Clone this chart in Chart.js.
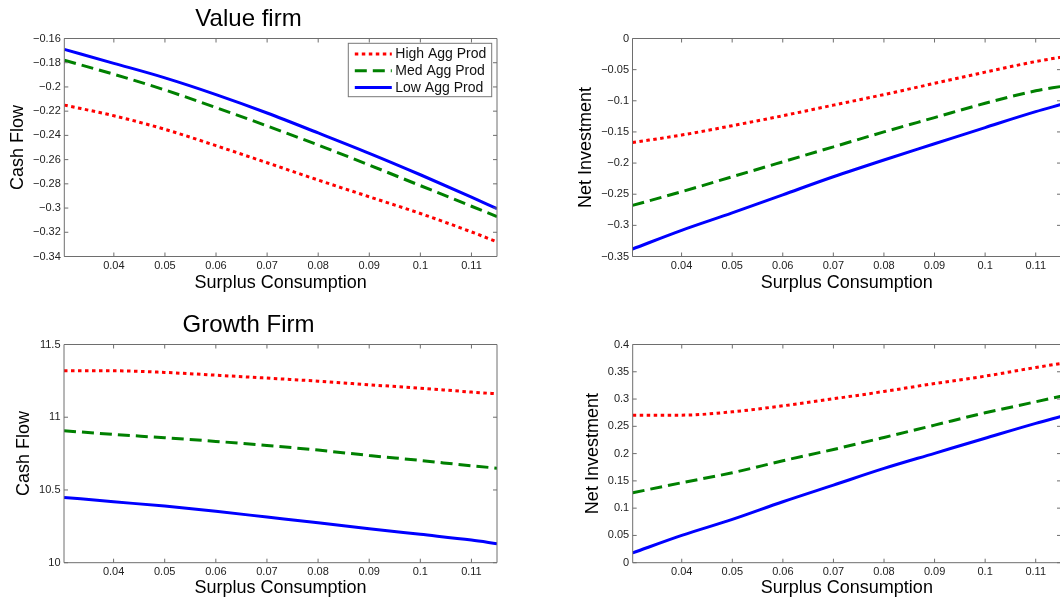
<!DOCTYPE html>
<html>
<head>
<meta charset="utf-8">
<script src="https://cdn.jsdelivr.net/npm/chart.js@4/dist/chart.umd.min.js"></script>
<style>
html,body{margin:0;padding:0;background:#fff;overflow:hidden}
#wrap{position:relative;width:1060px;height:603px;overflow:hidden}
canvas{position:absolute}
</style>
</head>
<body>
<div id="wrap">
<canvas id="c1" width="561" height="300" style="left:0;top:0"></canvas>
<canvas id="c3" width="561" height="303" style="left:0;top:300px"></canvas>
<canvas id="c2" width="532" height="300" style="left:530px;top:0"></canvas>
<canvas id="c4" width="532" height="303" style="left:530px;top:300px"></canvas>
</div>
<script>
// surplus consumption grid (x)
const surplus = [0.0303, 0.04, 0.05, 0.06, 0.07, 0.08, 0.09, 0.10, 0.11, 0.115]
const xTicks = [0.04, 0.05, 0.06, 0.07, 0.08, 0.09, 0.10, 0.11]

const seriesNames = ["High Agg Prod", "Med Agg Prod", "Low Agg Prod"]

// value firm - cash flow
const valueCashHigh = [-0.215, -0.2238, -0.2350, -0.2485, -0.2626, -0.2769, -0.2907, -0.3045, -0.3197, -0.3279]
const valueCashMed  = [-0.178, -0.1895, -0.2025, -0.2170, -0.2322, -0.2480, -0.2645, -0.2815, -0.2985, -0.3070]
const valueCashLow  = [-0.169, -0.1805, -0.1925, -0.2063, -0.2215, -0.2380, -0.2548, -0.2725, -0.2910, -0.3005]
const valueCashTicks = [-0.34, -0.32, -0.3, -0.28, -0.26, -0.24, -0.22, -0.2, -0.18, -0.16]

// value firm - net investment
const valueInvHigh = [-0.167, -0.155, -0.140, -0.124, -0.107, -0.090, -0.072, -0.054, -0.037, -0.030]
const valueInvMed  = [-0.268, -0.246, -0.222, -0.198, -0.174, -0.150, -0.127, -0.104, -0.084, -0.077]
const valueInvLow  = [-0.338, -0.308, -0.280, -0.251, -0.222, -0.195, -0.169, -0.143, -0.1175, -0.106]
const valueInvTicks = [-0.35, -0.3, -0.25, -0.2, -0.15, -0.1, -0.05, 0]

// growth firm - cash flow
const growthCashHigh = [11.319, 11.319, 11.308, 11.289, 11.269, 11.248, 11.223, 11.2, 11.173, 11.161]
const growthCashMed  = [10.907, 10.882, 10.859, 10.834, 10.806, 10.774, 10.737, 10.703, 10.666, 10.65]
const growthCashLow  = [10.449, 10.419, 10.389, 10.353, 10.314, 10.275, 10.234, 10.195, 10.156, 10.131]
const growthCashTicks = [10, 10.5, 11, 11.5]

// growth firm - net investment
const growthInvHigh = [0.2705, 0.2705, 0.2766, 0.2876, 0.3005, 0.3139, 0.3285, 0.342, 0.3579, 0.3652]
const growthInvMed  = [0.1282, 0.1466, 0.1649, 0.1869, 0.2076, 0.2296, 0.2522, 0.2748, 0.295, 0.3053]
const growthInvLow  = [0.018, 0.0501, 0.0794, 0.1118, 0.1423, 0.1728, 0.2005, 0.2282, 0.2555, 0.268]
const growthInvTicks = [0, 0.05, 0.1, 0.15, 0.2, 0.25, 0.3, 0.35, 0.4]

const FONT = "'Liberation Sans', Arial, sans-serif"
const BOX = "#6e6e6e"

Chart.defaults.font.family = FONT
Chart.defaults.color = "#222"

const styles = [
    {borderColor:"#ff0000", borderDash:[3.5,3.5]},
    {borderColor:"#008000", borderDash:[12,6]},
    {borderColor:"#0000ff", borderDash:[]}
]

function fmt(v){
    return String(+Number(v).toFixed(4)).replace("-", "\u2212")
}

function makeSets(high, med, low){
    return [high, med, low].map((arr, i) => ({
        label: seriesNames[i],
        data: arr.map((y, j) => ({x: surplus[j], y: y})),
        borderColor: styles[i].borderColor,
        borderDash: styles[i].borderDash,
        borderWidth: 3,
        pointRadius: 0,
        cubicInterpolationMode: "monotone",
        fill: false
    }))
}

// matlab style box with inward ticks
const boxPlugin = {
    id: "box",
    afterDraw(chart){
        const ctx = chart.ctx
        const a = chart.chartArea
        const xs = chart.scales.x, ys = chart.scales.y
        ctx.save()
        ctx.strokeStyle = BOX
        ctx.lineWidth = 1
        ctx.beginPath()
        ctx.rect(a.left, a.top, a.right - a.left, a.bottom - a.top)
        xs.ticks.forEach(t => {
            const p = xs.getPixelForValue(t.value)
            ctx.moveTo(p, a.bottom); ctx.lineTo(p, a.bottom - 4)
            ctx.moveTo(p, a.top); ctx.lineTo(p, a.top + 4)
        })
        ys.ticks.forEach(t => {
            const p = ys.getPixelForValue(t.value)
            ctx.moveTo(a.left, p); ctx.lineTo(a.left + 4, p)
            ctx.moveTo(a.right, p); ctx.lineTo(a.right - 4, p)
        })
        ctx.stroke()

        const lg = chart.options.plugins.box
        if (lg && lg.legend){
            const w = 143.4, h = 53.4
            const lx = a.right - 5.3 - w, ly = a.top + 4.8
            ctx.fillStyle = "#fff"
            ctx.fillRect(lx, ly, w, h)
            ctx.strokeStyle = "#777"
            ctx.strokeRect(lx, ly, w, h)
            ctx.font = "14px " + FONT
            ctx.textBaseline = "middle"
            ctx.textAlign = "left"
            chart.data.datasets.forEach((ds, i) => {
                const yy = ly + 10.7 + i * 16.7
                ctx.strokeStyle = ds.borderColor
                ctx.lineWidth = 3
                ctx.setLineDash(ds.borderDash)
                ctx.beginPath()
                ctx.moveTo(lx + 6.5, yy); ctx.lineTo(lx + 43.5, yy)
                ctx.stroke()
                ctx.setLineDash([])
                ctx.fillStyle = "#111"
                ctx.fillText(ds.label, lx + 47, yy + 0.5)
            })
        }
        ctx.restore()
    }
}

function makeChart(id, sets, opt){
    return new Chart(document.getElementById(id), {
        type: "line",
        data: {datasets: sets},
        plugins: [boxPlugin],
        options: {
            responsive: false,
            animation: false,
            devicePixelRatio: 1,
            layout: {padding: opt.padding},
            plugins: {
                legend: {display: false},
                tooltip: {enabled: false},
                title: opt.title ? {
                    display: true, text: opt.title, color: "#000",
                    font: {size: 24, weight: "normal"},
                    padding: opt.titlePad
                } : {display: false},
                box: {legend: !!opt.legend}
            },
            scales: {
                x: {
                    type: "linear", min: 0.0303, max: 0.115,
                    grid: {display: false, drawTicks: false},
                    border: {display: false},
                    afterBuildTicks: s => { s.ticks = xTicks.map(v => ({value: v})) },
                    afterFit: s => { s.height = opt.xH },
                    ticks: {padding: 3, font: {size: 11}, callback: v => fmt(v)},
                    title: {display: true, text: "Surplus Consumption", color: "#000",
                        font: {size: 18}, padding: {top: 0, bottom: opt.xTitlePad}}
                },
                y: {
                    type: "linear", min: opt.yTicks[0], max: opt.yTicks[opt.yTicks.length - 1],
                    grid: {display: false, drawTicks: false},
                    border: {display: false},
                    afterBuildTicks: s => { s.ticks = opt.yTicks.map(v => ({value: v})) },
                    afterFit: s => { s.width = opt.yW },
                    ticks: {padding: 3.5, font: {size: 11}, callback: v => fmt(v)},
                    title: {display: true, text: opt.yTitle, color: "#000",
                        font: {size: 18}, padding: {top: opt.yTitlePad, bottom: 0}}
                }
            }
        }
    })
}

makeChart("c1", makeSets(valueCashHigh, valueCashMed, valueCashLow), {
    title: "Value firm", titlePad: {top: 4.5, bottom: 5.2}, legend: true,
    padding: {top: 0, right: 64, left: 0, bottom: 0},
    yTicks: valueCashTicks, yTitle: "Cash Flow", yW: 64.3, yTitlePad: 6.8,
    xH: 43.5, xTitlePad: 6.2
})

makeChart("c2", makeSets(valueInvHigh, valueInvMed, valueInvLow), {
    padding: {top: 38.5, right: 1, left: 0, bottom: 0},
    yTicks: valueInvTicks, yTitle: "Net Investment", yW: 102.5, yTitlePad: 45.4,
    xH: 43.5, xTitlePad: 6.2
})

makeChart("c3", makeSets(growthCashHigh, growthCashMed, growthCashLow), {
    title: "Growth Firm", titlePad: {top: 10.5, bottom: 5.2},
    padding: {top: 0, right: 64, left: 0, bottom: 0},
    yTicks: growthCashTicks, yTitle: "Cash Flow", yW: 64, yTitlePad: 12.9,
    xH: 40.3, xTitlePad: 3.9
})

makeChart("c4", makeSets(growthInvHigh, growthInvMed, growthInvLow), {
    padding: {top: 44.5, right: 1, left: 0, bottom: 0},
    yTicks: growthInvTicks, yTitle: "Net Investment", yW: 102.7, yTitlePad: 52.2,
    xH: 40.3, xTitlePad: 3.9
})
</script>
</body>
</html>
